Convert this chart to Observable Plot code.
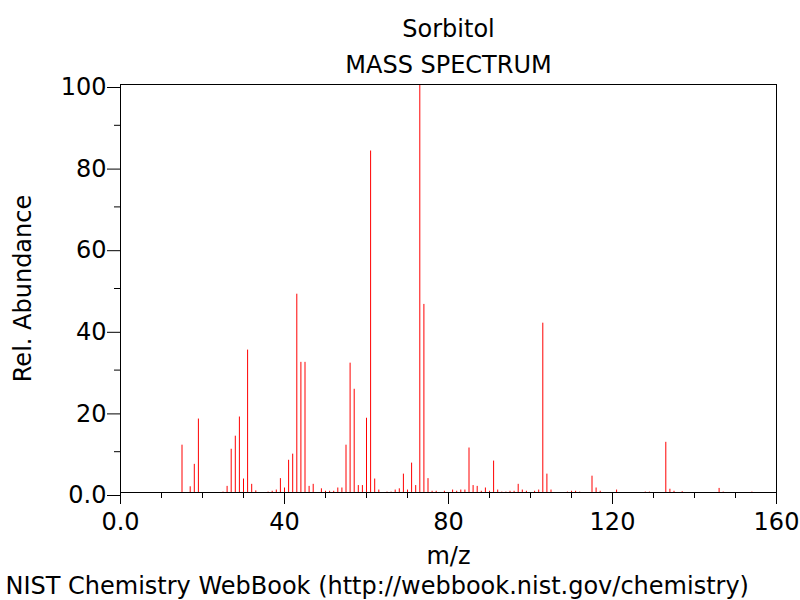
<!DOCTYPE html>
<html>
<head>
<meta charset="utf-8">
<script src="https://cdn.jsdelivr.net/npm/d3@7"></script>
<script src="https://cdn.jsdelivr.net/npm/@observablehq/plot@0.6"></script>
<style>
  html, body { margin: 0; padding: 0; background: white; }
</style>
</head>
<body>
<div id="chart"></div>
<script>
const title = "Sorbitol";
const subtitle = "MASS SPECTRUM";
const xLabel = "m/z";
const yLabel = "Rel. Abundance";
const footer = "NIST Chemistry WebBook (http://webbook.nist.gov/chemistry)";

const mz = [15,17,18,19,25,26,27,28,29,30,31,32,33,36,37,38,39,40,41,42,43,44,45,46,47,49,50,51,52,53,54,55,56,57,58,59,60,61,62,63,65,66,67,68,69,70,71,72,73,74,75,76,77,79,81,82,83,84,85,86,87,88,89,90,91,92,93,94,95,96,97,98,99,101,102,103,104,105,109,110,111,112,115,116,117,121,128,129,133,134,135,137,146,147,154];
const abundance = [11.6,1.4,6.9,18.0,0.1,1.5,10.6,13.8,18.5,3.3,34.9,2.0,0.4,0.1,0.3,0.6,3.4,1.1,7.9,9.4,48.6,31.9,31.9,1.5,2.0,0.9,0.3,0.3,0.3,1.1,1.1,11.6,31.7,25.3,1.7,1.7,18.2,83.7,3.3,0.6,0.1,0.1,0.6,0.9,4.5,0.6,7.2,1.7,100,46.1,3.4,0.3,0.3,0.3,0.6,0.3,0.6,0.6,10.9,1.7,1.5,0.3,1.1,0.3,7.7,0.6,0.1,0.1,0.3,0.3,2.0,0.6,0.3,0.3,0.6,41.5,4.5,0.6,0.1,0.3,0.3,0.1,4.0,1.1,0.3,0.6,0.1,0.1,12.3,0.8,0.3,0.2,1.0,0.1,0.1];

const xMajorTicks = [0, 40, 80, 120, 160];
const xMinorTicks = [10, 20, 30, 50, 60, 70, 90, 100, 110, 130, 140, 150];
const yMajorTicks = [0, 20, 40, 60, 80, 100];
const yMinorTicks = [10, 30, 50, 70, 90];

const peaks = mz.map((m, i) => ({mz: m, abundance: abundance[i]}));
const fmt = d => d === 0 ? "0.0" : String(d);

const chart = Plot.plot({
  width: 800,
  height: 600,
  marginLeft: 120,
  marginRight: 24,
  marginTop: 84,
  marginBottom: 108,
  style: {fontFamily: "DejaVu Sans", fontSize: "24px", background: "white", color: "black"},
  x: {domain: [0, 160]},
  y: {domain: [0, 100]},
  marks: [
    Plot.ruleX(peaks, {x: "mz", y1: 0, y2: "abundance", stroke: "#ff0000", strokeWidth: 1}),
    Plot.frame({stroke: "black"}),
    Plot.axisX({ticks: xMajorTicks, tickSize: 12, tickPadding: 8, tickFormat: fmt, label: null, fontSize: 24}),
    Plot.axisX({ticks: xMinorTicks, tickSize: 6, tickFormat: () => "", label: null}),
    Plot.axisY({ticks: yMajorTicks, tickSize: 13, tickPadding: 1, tickFormat: fmt, label: null, dy: 3, fontSize: 24}),
    Plot.axisY({ticks: yMinorTicks, tickSize: 6, tickFormat: () => "", label: null}),
    Plot.text([title], {text: d => d, frameAnchor: "top", lineAnchor: "bottom", dy: -48, fontSize: 24}),
    Plot.text([subtitle], {text: d => d, frameAnchor: "top", lineAnchor: "bottom", dy: -12, fontSize: 24}),
    Plot.text([xLabel], {text: d => d, frameAnchor: "bottom", lineAnchor: "bottom", dy: 71, fontSize: 24}),
    Plot.text([yLabel], {text: d => d, frameAnchor: "left", rotate: -90, textAnchor: "middle", lineAnchor: "bottom", dx: -90, fontSize: 24}),
    Plot.text([footer], {text: d => d, frameAnchor: "bottom-left", textAnchor: "start", lineAnchor: "bottom", dx: -115, dy: 101, fontSize: 24})
  ]
});
document.getElementById("chart").appendChild(chart);
</script>
</body>
</html>
